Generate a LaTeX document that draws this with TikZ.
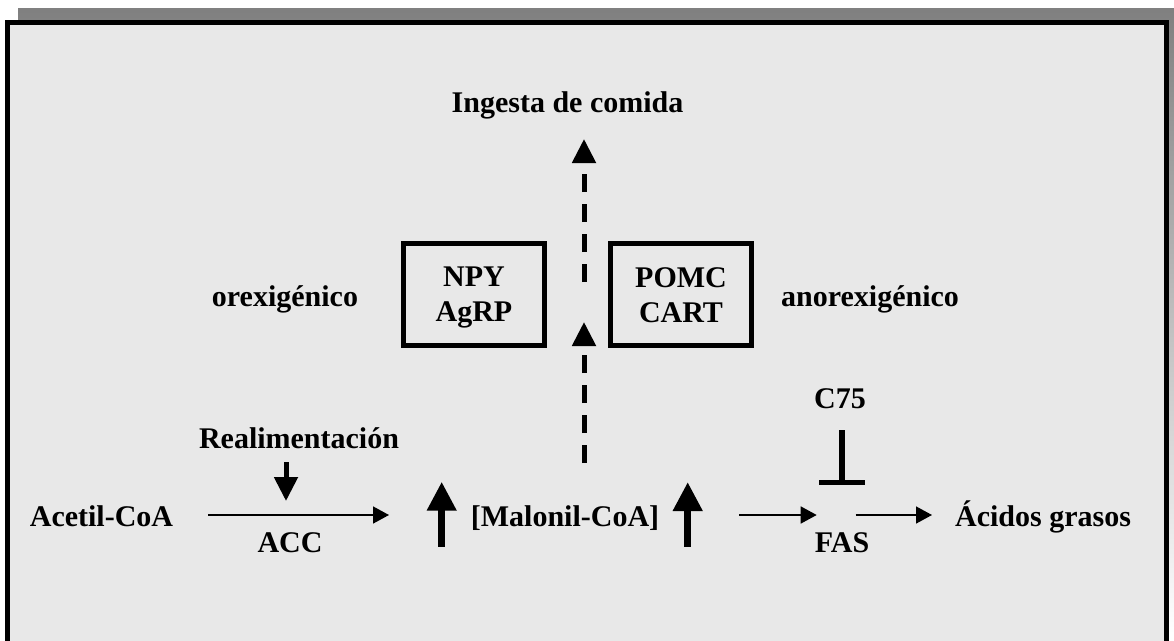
\documentclass[tikz,border=0pt]{standalone}
\usepackage{fontspec}
\setmainfont{Liberation Serif}
\usetikzlibrary{arrows.meta}
\definecolor{panel}{HTML}{E8E8E8}
\definecolor{shade}{HTML}{808080}
\begin{document}
\begin{tikzpicture}[x=1pt,y=-1pt,
  lbl/.style={font=\fontsize{30}{35}\selectfont\bfseries, inner sep=0pt, anchor=base},
  stack/.style={font=\fontsize{30}{35}\selectfont\bfseries, inner sep=0pt, align=center},
  genebox/.style={draw, line width=5pt, minimum width=141pt, minimum height=102pt, inner sep=0pt},
  rxn/.style={line width=1.5pt, -{Triangle[length=16pt,width=17pt]}},
  rise/.style={line width=7.5pt, -{Triangle[length=29pt,width=28pt]}},
  feed/.style={line width=5pt, -{Triangle[length=24pt,width=23pt]}},
  signal/.style={line width=5pt, dash pattern=on 18pt off 12pt, -{Triangle[length=24pt,width=23pt]}},
  block/.style={line width=6pt},
  blockbar/.style={line width=5pt},
]
\useasboundingbox (0,0) rectangle (1174,640);
\clip (0,0) rectangle (1174,640);

% drop shadow and framed panel
\fill[shade] (18,8) rectangle (1174,634);
\draw[line width=5pt, fill=panel] (7.5,22.5) rectangle (1166.5,700);

% labels
\node[lbl] (food) at (567.5,112) {Ingesta de comida};
\node[lbl] (orex) at (285,306) {orexigénico};
\node[lbl] (anorex) at (870,306) {anorexigénico};
\node[lbl] (realim) at (299,448) {Realimentación};
\node[lbl] (c75) at (840,408) {C75};
\node[lbl] (acetil) at (101.5,526) {Acetil-CoA};
\node[lbl] (malonil) at (565,526) {[Malonil-CoA]};
\node[lbl] (acidos) at (1043,526) {Ácidos grasos};
\node[lbl] (acc) at (290,552) {ACC};
\node[lbl] (fas) at (842,552) {FAS};

% neuropeptide boxes
\node[genebox] (npy) at (474,294.5) {};
\node[stack] (npyt) at (474,297.8) {NPY\\AgRP};
\node[genebox] (pomc) at (681,294.5) {};
\node[stack] (pomct) at (681,295) {POMC\\CART};

% anchor points of the arrows
\coordinate (accL) at (208,515);
\coordinate (accR) at (389,515);
\coordinate (feedT) at (286,462);
\coordinate (feedB) at (286,501);
\coordinate (upLb) at (441.7,546.7);
\coordinate (upLt) at (441.7,481.7);
\coordinate (upRb) at (687.7,546.7);
\coordinate (upRt) at (687.7,482);
\coordinate (fasInL) at (739,515);
\coordinate (fasInR) at (816.7,515);
\coordinate (fasOutL) at (855.7,515);
\coordinate (fasOutR) at (932,515);
\coordinate (sigLb) at (584,463);
\coordinate (sigLt) at (584,322);
\coordinate (sigUb) at (584,282);
\coordinate (sigUt) at (584,139);
\coordinate (blkT) at (841.7,430);
\coordinate (blkB) at (841.7,482);
\coordinate (barL) at (819,482);
\coordinate (barR) at (865,482);

% connectors
\draw[rxn] (accL) -- (accR);
\draw[feed] (feedT) -- (feedB);
\draw[rise] (upLb) -- (upLt);
\draw[rise] (upRb) -- (upRt);
\draw[rxn] (fasInL) -- (fasInR);
\draw[rxn] (fasOutL) -- (fasOutR);
\draw[signal] (sigLb) -- (sigLt);
\draw[signal] (sigUb) -- (sigUt);
\draw[block] (blkT) -- (blkB);
\draw[blockbar] (barL) -- (barR);
\end{tikzpicture}
\end{document}
